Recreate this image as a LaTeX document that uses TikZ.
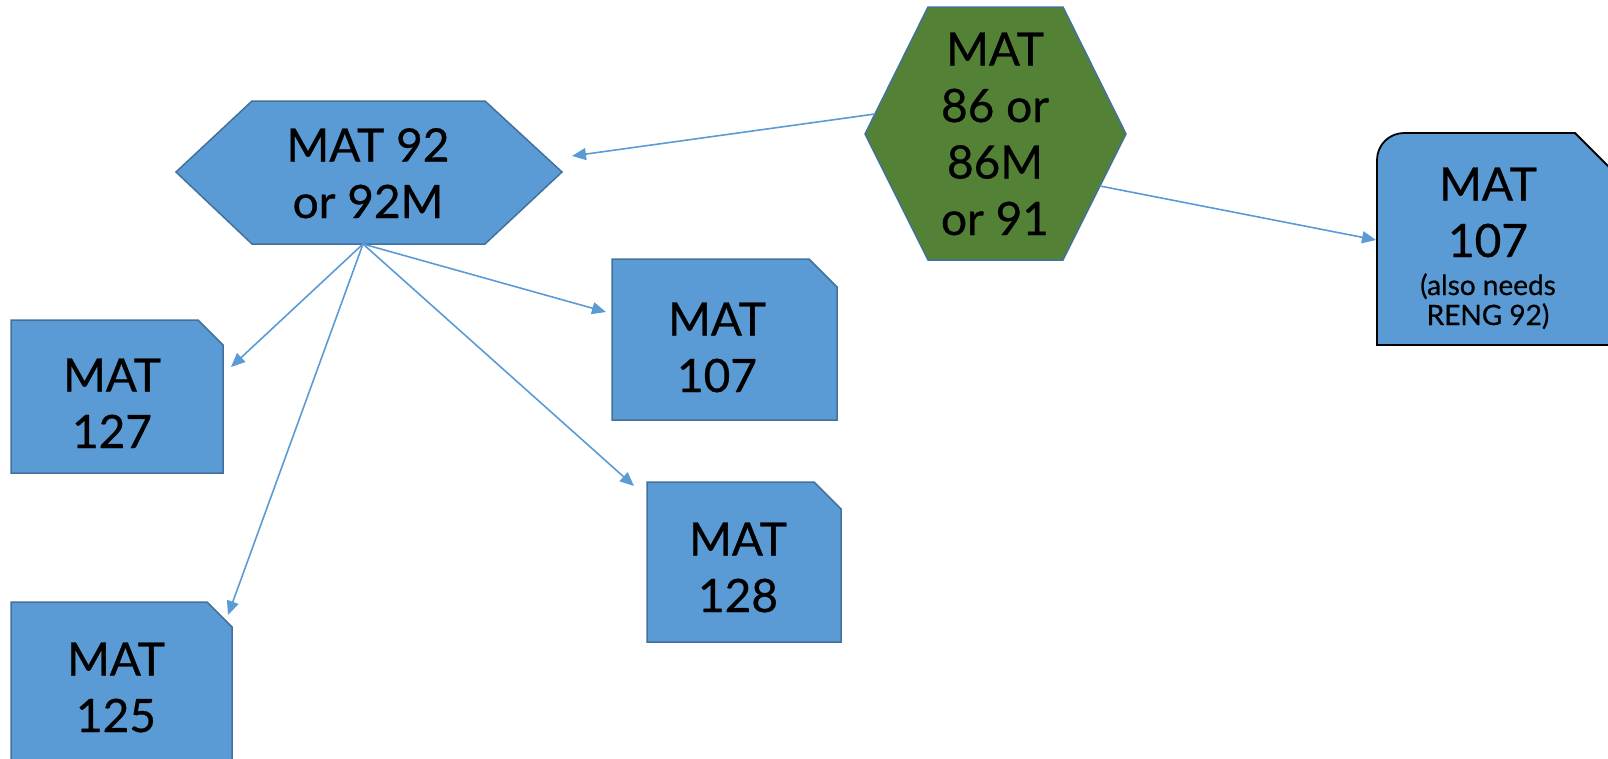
\documentclass[tikz,border=0pt]{standalone}
\usepackage{fontspec}
\setmainfont{Lato}
\newfontfamily\medfont{Lato}[FakeBold=0.7]
\usetikzlibrary{arrows.meta}
\definecolor{boxblue}{HTML}{5B9BD5}
\definecolor{edgeblue}{HTML}{41719C}
\definecolor{hexgreen}{HTML}{538135}
\definecolor{arrowblue}{HTML}{5B9BD5}
\begin{document}
\begin{tikzpicture}[x=1pt,y=-1pt,
  shapebox/.style={fill=boxblue,draw=edgeblue,line width=1.5pt,line join=miter},
  greenhex/.style={fill=hexgreen,draw=edgeblue,line width=1.5pt},
  blackbox/.style={fill=boxblue,draw=black,line width=1.8pt},
  txt/.style={inner sep=0pt,align=center,anchor=base,font=\medfont\fontsize{46}{56.5}\selectfont},
  smalltxt/.style={inner sep=0pt,align=center,anchor=base,font=\medfont\fontsize{28}{30}\selectfont},
  link/.style={draw=arrowblue,line width=1.6pt,-{Triangle[length=14pt,width=12pt]}}]
\path[use as bounding box,clip] (0,0) rectangle (1608,758);
% shapes
\draw[shapebox] (176,172) -- (252,101) -- (485,101) -- (562,172) -- (485,244) -- (252,244) -- cycle;
\draw[greenhex] (865,134) -- (928,7) -- (1063,7) -- (1126,134) -- (1063,260) -- (928,260) -- cycle;
\draw[blackbox] (1377,345) -- (1377,160) arc[start angle=180,end angle=270,radius=27] -- (1575,133) -- (1660,218) -- (1660,345) -- cycle;
\draw[shapebox] (11,320) -- (198,320) -- (223,345) -- (223,473) -- (11,473) -- cycle;
\draw[shapebox] (612,259) -- (809,259) -- (837,287) -- (837,420) -- (612,420) -- cycle;
\draw[shapebox] (11,602) -- (207,602) -- (232,627) -- (232,790) -- (11,790) -- cycle;
\draw[shapebox] (647,482) -- (814,482) -- (841,509) -- (841,642) -- (647,642) -- cycle;
% texts (anchor=base is the baseline of the last line)
\node[txt] (m92) at (368,218) {MAT 92\\or 92M};
\node[txt] (m86) at (995,235) {MAT\\86 or\\86M\\or 91};
\node[txt] (m107r) at (1488,257) {MAT\\107};
\node[smalltxt] (m107note) at (1488,325) {(also needs\\RENG 92)};
\node[txt] (m127) at (112,448) {MAT\\127};
\node[txt] (m107) at (717,392) {MAT\\107};
\node[txt] (m125) at (116,732) {MAT\\125};
\node[txt] (m128) at (738,612) {MAT\\128};
% connector ends
\coordinate (gL) at (875,114);
\coordinate (gR) at (1100,186);
\coordinate (m92in) at (572,156);
\coordinate (m107rin) at (1376,240);
\coordinate (m92out) at (363,244);
\coordinate (m127in) at (231,367);
\coordinate (m125in) at (228,615);
\coordinate (m107in) at (606,312);
\coordinate (m128in) at (634,486);
\draw[link] (gL) -- (m92in);
\draw[link] (gR) -- (m107rin);
\draw[link] (m92out) -- (m127in);
\draw[link] (m92out) -- (m125in);
\draw[link] (m92out) -- (m107in);
\draw[link] (m92out) -- (m128in);
\end{tikzpicture}
\end{document}
